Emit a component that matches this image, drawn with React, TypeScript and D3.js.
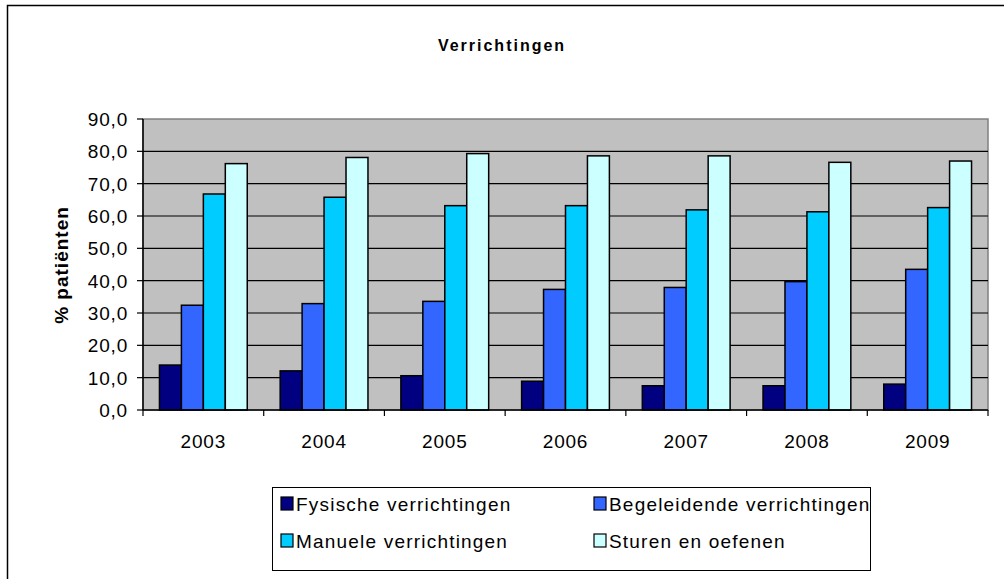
import React from "react";
import * as d3 from "d3";

const years = ["2003", "2004", "2005", "2006", "2007", "2008", "2009"];
const seriesNames = [
  "Fysische verrichtingen",
  "Begeleidende verrichtingen",
  "Manuele verrichtingen",
  "Sturen en oefenen",
];
const fysische = [13.9, 12.1, 10.6, 8.9, 7.5, 7.5, 8.0];
const begeleidende = [32.4, 32.9, 33.6, 37.3, 37.9, 39.7, 43.5];
const manuele = [66.8, 65.8, 63.2, 63.2, 61.9, 61.3, 62.6];
const sturen = [76.2, 78.1, 79.3, 78.6, 78.6, 76.6, 77.0];
const yTicks = [0, 10, 20, 30, 40, 50, 60, 70, 80, 90];
const colors = ["#000080", "#3366FF", "#00CCFF", "#CCFFFF"];

const W = 1004;
const H = 579;
const plot = { left: 143, right: 988, top: 119, bottom: 410 };
const FONT = "'Liberation Sans', Arial, sans-serif";

export default function App() {
  const series = [fysische, begeleidende, manuele, sturen];
  const x = d3
    .scaleBand<string>()
    .domain(years)
    .range([plot.left, plot.right])
    .paddingInner(0)
    .paddingOuter(0);
  const y = d3.scaleLinear().domain([0, 90]).range([plot.bottom, plot.top]);
  const bw = x.bandwidth();
  const barW = bw / (4 + 1.5);
  const gap = (bw - 4 * barW) / 2;

  const legendItems = seriesNames.map((name, i) => ({
    name,
    color: colors[i],
    col: i % 2,
    row: Math.floor(i / 2),
  }));

  return (
    <svg
      width={W}
      height={H}
      style={{ position: "absolute", left: 0, top: 0, background: "#fff" }}
      fontFamily={FONT}
    >
      {/* cut-off document text line */}
      <text
        x={9}
        y={-7}
        fontFamily="'Liberation Serif', 'Times New Roman', serif"
        fontSize={20}
      >
        Figuur 6.3 Verrichtingen naar type per jaar bij patiënten in de praktijk, 2003-2009 (percentage)
      </text>
      {/* frame */}
      <rect x={7.5} y={5.5} width={1010} height={600} fill="none" stroke="#000" strokeWidth={1.5} />

      {/* title */}
      <text
        x={502}
        y={51}
        textAnchor="middle"
        fontWeight="bold"
        fontSize={16}
        letterSpacing={2}
      >
        Verrichtingen
      </text>

      {/* plot area */}
      <rect
        x={plot.left}
        y={plot.top}
        width={plot.right - plot.left}
        height={plot.bottom - plot.top}
        fill="#C0C0C0"
        stroke="#808080"
        strokeWidth={1.5}
      />
      {yTicks.slice(1, -1).map((t) => (
        <line
          key={"g" + t}
          x1={plot.left}
          x2={plot.right}
          y1={y(t)}
          y2={y(t)}
          stroke="#000"
          strokeWidth={1.2}
        />
      ))}

      {/* bars */}
      {years.map((yr, i) =>
        series.map((s, j) => (
          <rect
            key={yr + j}
            x={(x(yr) as number) + gap + j * barW}
            y={y(s[i])}
            width={barW}
            height={y(0) - y(s[i])}
            fill={colors[j]}
            stroke="#000"
            strokeWidth={1.5}
          />
        ))
      )}

      {/* axes */}
      <line x1={plot.left} x2={plot.left} y1={plot.top} y2={plot.bottom} stroke="#000" strokeWidth={1.5} />
      <line x1={plot.left} x2={plot.right} y1={plot.bottom} y2={plot.bottom} stroke="#000" strokeWidth={1.5} />
      {yTicks.map((t) => (
        <g key={"t" + t}>
          <line x1={plot.left - 6} x2={plot.left} y1={y(t)} y2={y(t)} stroke="#000" strokeWidth={1.2} />
          <text x={128} y={y(t) + 7} textAnchor="end" fontSize={19} letterSpacing={0.8}>
            {t.toFixed(1).replace(".", ",")}
          </text>
        </g>
      ))}
      {[...years.map((yr) => x(yr) as number), plot.right].map((xx, i) => (
        <line key={"xt" + i} x1={xx} x2={xx} y1={plot.bottom} y2={plot.bottom + 6} stroke="#000" strokeWidth={1.2} />
      ))}
      {years.map((yr) => (
        <text key={"xl" + yr} x={(x(yr) as number) + bw / 2} y={448} textAnchor="middle" fontSize={19} letterSpacing={0.8}>
          {yr}
        </text>
      ))}

      {/* y label */}
      <text
        transform="translate(68,265) rotate(-90)"
        textAnchor="middle"
        fontWeight="bold"
        fontSize={19}
        letterSpacing={1}
      >
        % patiënten
      </text>

      {/* legend */}
      <rect x={272.5} y={487.5} width={598} height={83} fill="#fff" stroke="#000" strokeWidth={1} />
      {legendItems.map((it) => {
        const lx = 281 + it.col * 313;
        const ly = 497 + it.row * 37;
        return (
          <g key={it.name}>
            <rect x={lx} y={ly} width={12} height={13} fill={it.color} stroke="#000" strokeWidth={1.2} />
            <text x={lx + 15} y={ly + 14} fontSize={19} letterSpacing={1.2}>
              {it.name}
            </text>
          </g>
        );
      })}
    </svg>
  );
}
